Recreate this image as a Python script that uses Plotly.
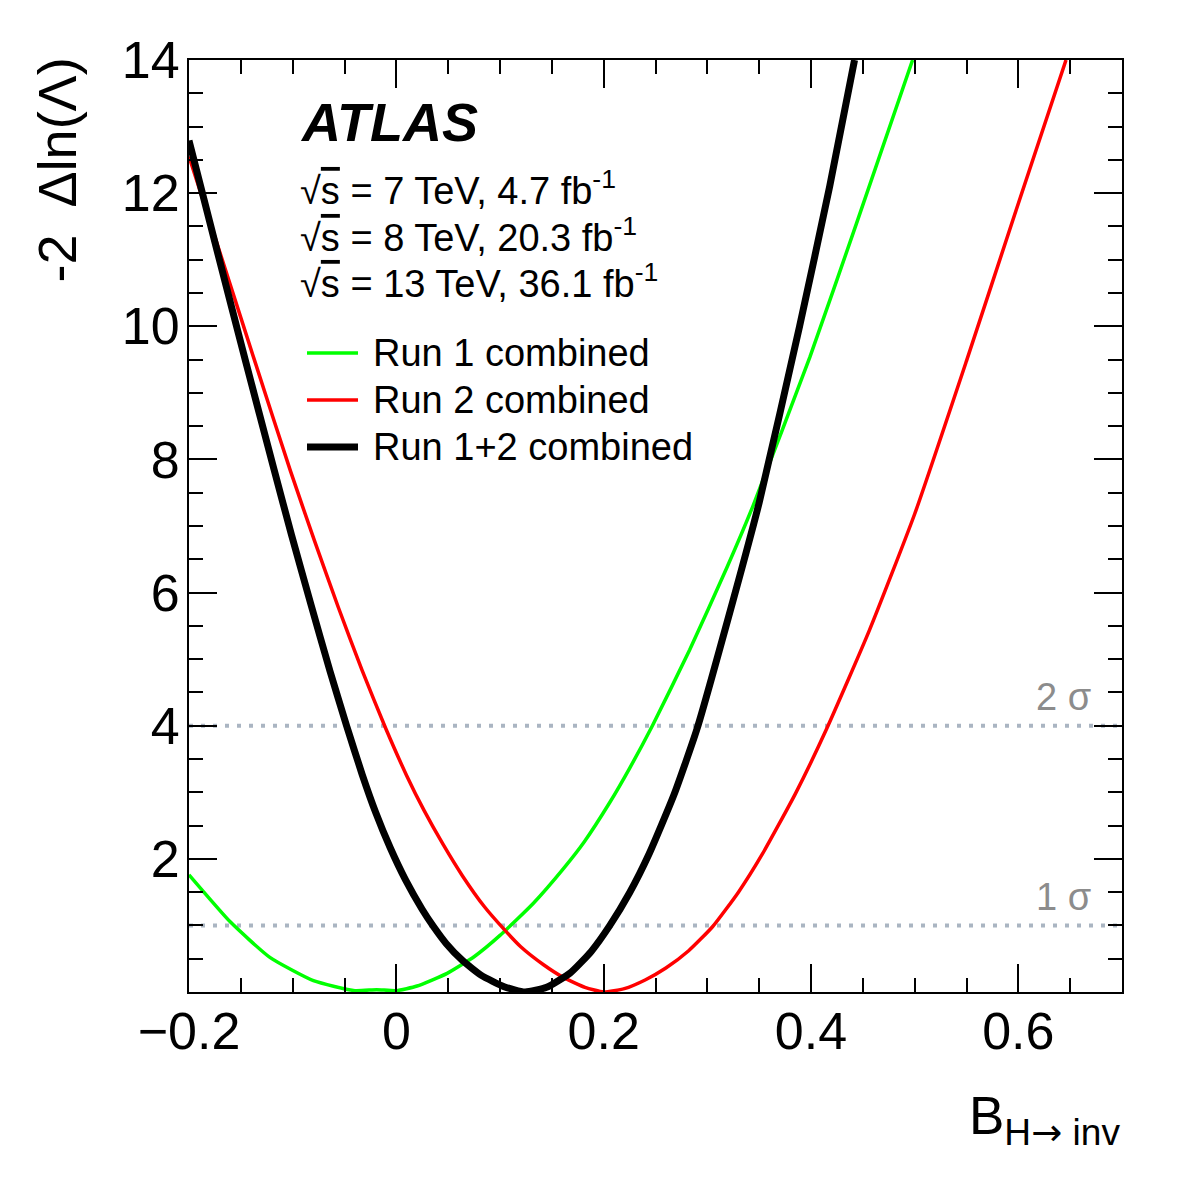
import plotly.graph_objects as go

# ---------------- data ----------------
run1_x = [-0.200, -0.160, -0.122, -0.080, -0.040, -0.019, 0.000, 0.020, 0.049, 0.075,
          0.100, 0.132, 0.161, 0.181, 0.206, 0.225, 0.247, 0.283, 0.319, 0.344,
          0.399, 0.444, 0.498]
run1_y = [1.76, 1.05, 0.52, 0.17, 0.02, 0.035, 0.02, 0.09, 0.28, 0.53,
          0.85, 1.33, 1.85, 2.25, 2.85, 3.36, 4.00, 5.14, 6.38, 7.30,
          9.54, 11.55, 14.0]

run2_x = [-0.200, -0.170, -0.136, -0.102, -0.079, -0.056, -0.033, -0.010, 0.010, 0.027,
          0.045, 0.064, 0.085, 0.104, 0.120, 0.142, 0.161, 0.182, 0.200, 0.220,
          0.240, 0.260, 0.282, 0.305, 0.330, 0.353, 0.385, 0.415, 0.456, 0.500,
          0.550, 0.598, 0.646]
run2_y = [12.55, 11.10, 9.45, 7.82, 6.78, 5.78, 4.83, 3.95, 3.25, 2.72,
          2.22, 1.74, 1.28, 0.94, 0.68, 0.41, 0.22, 0.07, 0.00, 0.05,
          0.18, 0.36, 0.62, 0.98, 1.50, 2.07, 2.98, 3.95, 5.42, 7.18,
          9.48, 11.75, 14.0]

comb_x = [-0.200, -0.172, -0.145, -0.118, -0.101, -0.082, -0.064, -0.048, -0.033, -0.020,
          -0.006, 0.009, 0.025, 0.036, 0.048, 0.064, 0.082, 0.104, 0.124, 0.145,
          0.168, 0.188, 0.206, 0.225, 0.244, 0.268, 0.290, 0.319, 0.350, 0.389,
          0.418, 0.442]
comb_y = [12.79, 11.08, 9.45, 7.85, 6.86, 5.80, 4.82, 4.00, 3.27, 2.70,
          2.17, 1.68, 1.24, 0.98, 0.73, 0.47, 0.25, 0.08, 0.00, 0.07,
          0.29, 0.61, 1.00, 1.49, 2.08, 2.97, 3.95, 5.55, 7.35, 10.0,
          12.1, 14.0]

series_names = ["Run 1 combined", "Run 2 combined", "Run 1+2 combined"]
series_colors = ["#00ff00", "#ff0000", "#000000"]
series_widths = [3.5, 3.5, 7]

sigma_levels = [1, 4]
sigma_labels = ["1 σ", "2 σ"]

x_tickvals = [-0.2, 0.0, 0.2, 0.4, 0.6]
x_ticktext = ["\u22120.2", "0", "0.2", "0.4", "0.6"]
y_tickvals = [2, 4, 6, 8, 10, 12, 14]
y_ticktext = ["2", "4", "6", "8", "10", "12", "14"]

SQRT_S = "√<span style='text-decoration:overline'>s</span>"
energy_lines = [
    SQRT_S + " = 7 TeV, 4.7 fb<sup>-1</sup>",
    SQRT_S + " = 8 TeV, 20.3 fb<sup>-1</sup>",
    SQRT_S + " = 13 TeV, 36.1 fb<sup>-1</sup>",
]

FONT = "Liberation Sans, Arial, Helvetica, sans-serif"
XMIN, XMAX = -0.2, 0.7
YMIN, YMAX = 0.0, 14.0

# plot-area geometry (px) used to place paper-referenced decorations
L, R, T, B = 189, 1122, 60, 992
PW, PH = R - L, B - T


def px2paper(xp, yp):
    return (xp - L) / PW, (B - yp) / PH


fig = go.Figure()

# sigma reference lines
for lvl in sigma_levels:
    fig.add_trace(go.Scatter(
        x=[XMIN, XMAX], y=[lvl, lvl], mode="lines",
        line=dict(color="#aab5c2", width=4, dash="4px,8px"),
        showlegend=False, hoverinfo="skip"))

for xs, ys, name, col, w in zip([run1_x, run2_x, comb_x], [run1_y, run2_y, comb_y],
                                series_names, series_colors, series_widths):
    fig.add_trace(go.Scatter(x=xs, y=ys, mode="lines", name=name, showlegend=False,
                             line=dict(color=col, width=w, shape="spline", smoothing=0.5)))

axis_common = dict(
    showline=True, linecolor="black", linewidth=2, mirror="allticks",
    ticks="inside", tickcolor="black", tickwidth=2, ticklen=28,
    showgrid=False, zeroline=False,
    tickfont=dict(family=FONT, size=52, color="black"),
)

fig.update_xaxes(range=[XMIN, XMAX], tickmode="array", tickvals=x_tickvals,
                 ticktext=x_ticktext,
                 minor=dict(ticks="inside", ticklen=14, tickwidth=2, tickcolor="black",
                            tick0=0, dtick=0.05, showgrid=False),
                 ticklabelstandoff=-7,
                 **axis_common)
fig.update_yaxes(range=[YMIN, YMAX], tickmode="array", tickvals=y_tickvals,
                 ticktext=y_ticktext,
                 minor=dict(ticks="inside", ticklen=14, tickwidth=2, tickcolor="black",
                            tick0=0, dtick=0.5, showgrid=False),
                 ticklabelstandoff=-3,
                 **axis_common)

annotations = []
shapes = []
# ATLAS
ax_, ay_ = px2paper(298, 122)
annotations.append(dict(xref="paper", yref="paper", x=ax_, y=ay_,
                        xanchor="left", yanchor="middle", showarrow=False,
                        text="<b><i>ATLAS</i></b>",
                        font=dict(family=FONT, size=54, color="black")))
for i, t in enumerate(energy_lines):
    ex, ey = px2paper(298, 188 + i * 46.5)
    annotations.append(dict(xref="paper", yref="paper", x=ex, y=ey,
                            xanchor="left", yanchor="middle",
                            showarrow=False, text=t,
                            font=dict(family=FONT, size=38, color="black")))
# legend (drawn by hand to match the ROOT layout)
for i, (name, col, w) in enumerate(zip(series_names, series_colors, series_widths)):
    yrow = 353 + i * 47
    x0, y0 = px2paper(307, yrow)
    x1, _ = px2paper(358, yrow)
    shapes.append(dict(type="line", xref="paper", yref="paper", x0=x0, x1=x1,
                       y0=y0, y1=y0, line=dict(color=col, width=w)))
    tx, ty = px2paper(371, yrow)
    annotations.append(dict(xref="paper", yref="paper", x=tx, y=ty,
                            xanchor="left", yanchor="middle", showarrow=False,
                            text=name, font=dict(family=FONT, size=38, color="black")))
# sigma labels
for lvl, lab in zip(sigma_levels, sigma_labels):
    sx, _ = px2paper(1093, 0)
    annotations.append(dict(xref="paper", yref="y", x=sx,
                            y=lvl + 0.43, xanchor="right", yanchor="middle",
                            showarrow=False, text=lab,
                            font=dict(family=FONT, size=38, color="#8c8c8c")))
# axis titles
_, bty = px2paper(0, 1156)
annotations.append(dict(xref="paper", yref="paper", x=1.0, y=bty,
                        xanchor="right", yanchor="bottom", showarrow=False,
                        text="B<sub>H<span style='font-family:DejaVu Sans'>\u2192</span> inv</sub>",
                        font=dict(family=FONT, size=53, color="black")))
ytx, yty = px2paper(57, 56)
annotations.append(dict(xref="paper", yref="paper", x=ytx, y=yty,
                        xanchor="center", yanchor="top",
                        textangle=-90, showarrow=False,
                        text="-2  \u0394ln(\u039b)",
                        font=dict(family=FONT, size=54, color="black")))

fig.update_layout(
    width=1182, height=1182, autosize=False,
    margin=dict(l=L, r=1182 - R, t=T, b=1182 - B, pad=0),
    paper_bgcolor="white", plot_bgcolor="white",
    font=dict(family=FONT, color="black"),
    annotations=annotations, shapes=shapes,
    showlegend=False,
)

fig.write_html("out.html")
